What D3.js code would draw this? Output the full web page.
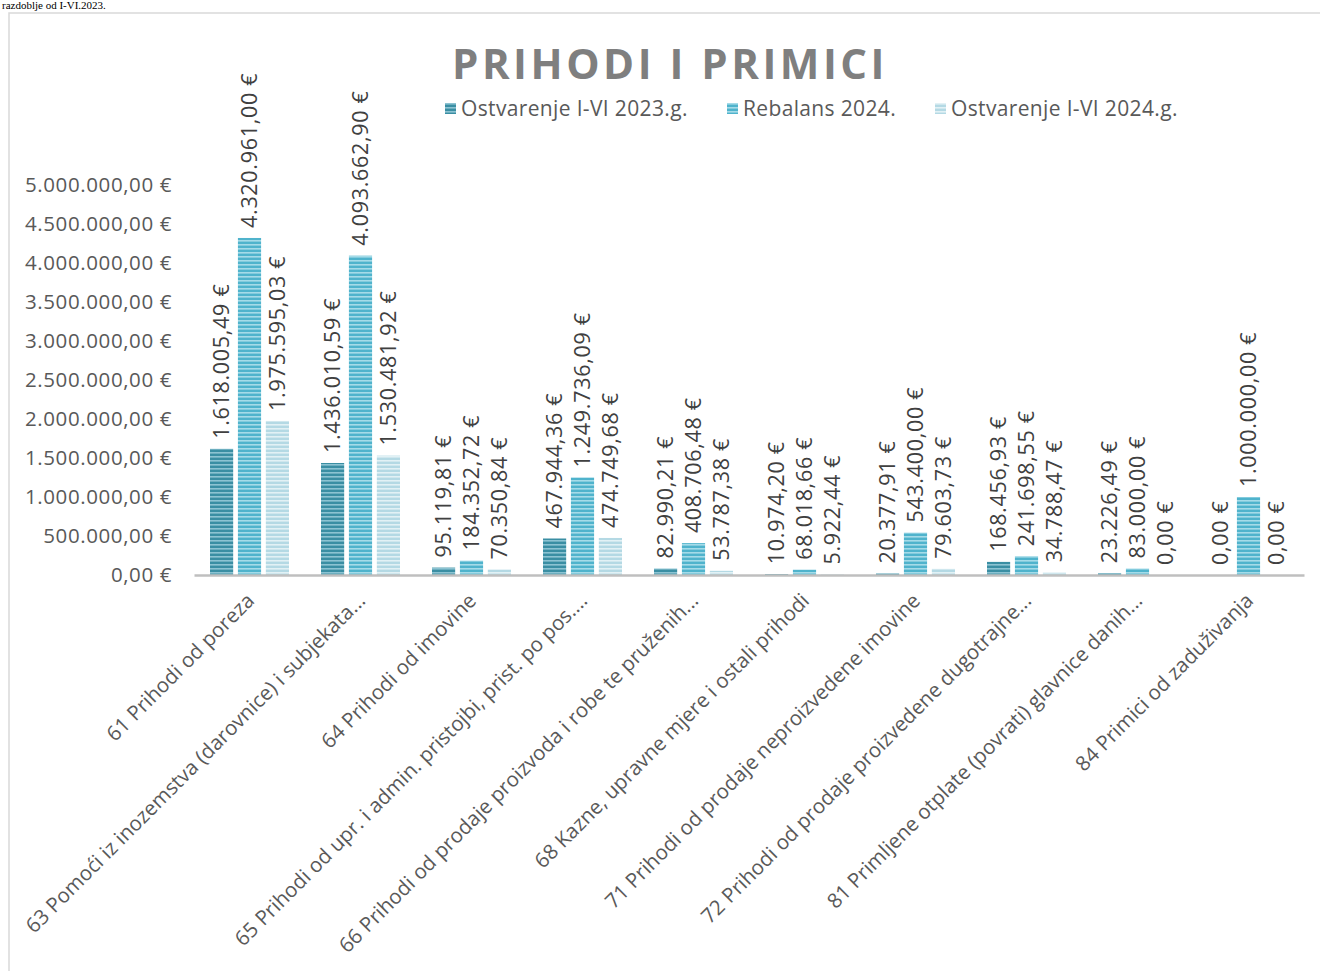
<!DOCTYPE html>
<html>
<head>
<meta charset="utf-8">
<script src="https://cdn.jsdelivr.net/npm/d3@7"></script>
<style>
  html, body { margin: 0; padding: 0; background: #fff; }
  svg { display: block; }
</style>
</head>
<body>
<svg id="chart" width="1320" height="971"></svg>
<script>
const categories = [
  "61 Prihodi od poreza",
  "63 Pomoći iz inozemstva (darovnice) i subjekata...",
  "64 Prihodi od imovine",
  "65 Prihodi od upr. i admin. pristojbi, prist. po pos....",
  "66 Prihodi od prodaje proizvoda i robe te pruženih...",
  "68 Kazne, upravne mjere i ostali prihodi",
  "71 Prihodi od prodaje neproizvedene imovine",
  "72 Prihodi od prodaje proizvedene dugotrajne...",
  "81 Primljene otplate (povrati) glavnice danih...",
  "84 Primici od zaduživanja"
];
const seriesNames = ["Ostvarenje I-VI 2023.g.", "Rebalans 2024.", "Ostvarenje I-VI 2024.g."];
const ostvarenje2023 = [1618005.49, 1436010.59, 95119.81, 467944.36, 82990.21, 10974.20, 20377.91, 168456.93, 23226.49, 0];
const rebalans2024 = [4320961.00, 4093662.90, 184352.72, 1249736.09, 408706.48, 68018.66, 543400.00, 241698.55, 83000.00, 1000000.00];
const ostvarenje2024 = [1975595.03, 1530481.92, 70350.84, 474749.68, 53787.38, 5922.44, 79603.73, 34788.47, 0, 0];
const yTicks = [0, 500000, 1000000, 1500000, 2000000, 2500000, 3000000, 3500000, 4000000, 4500000, 5000000];
const titleText = "PRIHODI I PRIMICI";
const topText = "razdoblje od I-VI.2023.";

const seriesValues = [ostvarenje2023, rebalans2024, ostvarenje2024];
const seriesColors = [
  { base: "#3a8ea3", light: "#8cc3d2" },
  { base: "#4fb3cc", light: "#a5dbe8" },
  { base: "#b4d9e4", light: "#e2f1f5" }
];

const locale = d3.formatLocale({ decimal: ",", thousands: ".", grouping: [3], currency: ["", " €"] });
const fmt = v => locale.format(",.2f")(v) + " €";

const svg = d3.select("#chart");
const defs = svg.append("defs");
seriesColors.forEach((c, i) => {
  const p = defs.append("pattern").attr("id", "pat" + i)
    .attr("patternUnits", "userSpaceOnUse").attr("width", 6).attr("height", 4);
  p.append("rect").attr("width", 6).attr("height", 4).attr("fill", c.base);
  p.append("rect").attr("y", 0).attr("width", 6).attr("height", 1.6).attr("fill", c.light);
});

// top text (line of the page above the chart)
svg.append("text").attr("x", 2).attr("y", 9)
  .attr("font-family", "Liberation Serif, serif").attr("font-size", 11).attr("fill", "#000")
  .text(topText);

// chart frame
svg.append("rect").attr("x", 9).attr("y", 13).attr("width", 1330).attr("height", 1000)
  .attr("fill", "none").attr("stroke", "#d9d9d9").attr("stroke-width", 1.5);

const x0 = d3.scaleBand().domain(categories).range([194, 1304]).padding(0);
const x1 = d3.scaleBand().domain([0, 1, 2]).range([16, 95]).paddingInner(0.17).paddingOuter(0);
const y = d3.scaleLinear().domain([0, 5000000]).range([575, 185]);

// title
svg.append("text").attr("x", 670).attr("y", 79).attr("text-anchor", "middle")
  .attr("font-family", "Open Sans, sans-serif").attr("font-weight", "bold")
  .attr("font-size", 42).attr("letter-spacing", 3.5).attr("fill", "#7f7f7f")
  .text(titleText);

// legend
const legendX = [445, 727, 935];
seriesNames.forEach((n, i) => {
  const g = svg.append("g").attr("transform", `translate(${legendX[i]},103)`);
  g.append("rect").attr("width", 11).attr("height", 11).attr("fill", `url(#pat${i})`);
  g.append("text").attr("x", 16).attr("y", 12.5)
    .attr("font-family", "Open Sans, sans-serif").attr("font-size", 21)
    .attr("letter-spacing", 0.35).attr("fill", "#595959")
    .text(n);
});

// y axis
const yAxis = d3.axisLeft(y).tickValues(yTicks).tickSize(0).tickPadding(22).tickFormat(fmt);
const yg = svg.append("g").attr("transform", "translate(194,0)").call(yAxis);
yg.select(".domain").remove();
yg.selectAll("text").attr("font-family", "Open Sans, sans-serif").attr("font-size", 20.5)
  .attr("letter-spacing", 0.6).attr("fill", "#595959");

// bars
const groups = svg.append("g").selectAll("g").data(categories).join("g")
  .attr("transform", d => `translate(${x0(d)},0)`);
groups.each(function(cat, ci) {
  const g = d3.select(this);
  seriesValues.forEach((vals, si) => {
    const v = vals[ci];
    g.append("rect")
      .attr("x", x1(si)).attr("width", x1.bandwidth())
      .attr("y", y(v)).attr("height", y(0) - y(v))
      .attr("fill", `url(#pat${si})`);
    const cx = x1(si) + x1.bandwidth() / 2;
    g.append("text")
      .attr("transform", `translate(${cx},${y(v) - 10}) rotate(-90)`)
      .attr("dy", "0.35em")
      .attr("font-family", "Open Sans, sans-serif").attr("font-size", 21.5)
      .attr("letter-spacing", 0.7).attr("fill", "#404040")
      .text(fmt(v));
  });
});

// x axis
const xAxis = d3.axisBottom(x0).tickSize(0).tickPadding(0);
const xg = svg.append("g").attr("transform", "translate(0,575)").call(xAxis);
xg.select(".domain").attr("stroke", "#bfbfbf").attr("stroke-width", 2.5);
xg.selectAll("text")
  .attr("font-family", "Open Sans, sans-serif").attr("font-size", 20.5).attr("fill", "#595959")
  .attr("text-anchor", "end").attr("dy", 0).attr("y", 0)
  .attr("transform", "translate(6,27) rotate(-45)");
</script>
</body>
</html>
